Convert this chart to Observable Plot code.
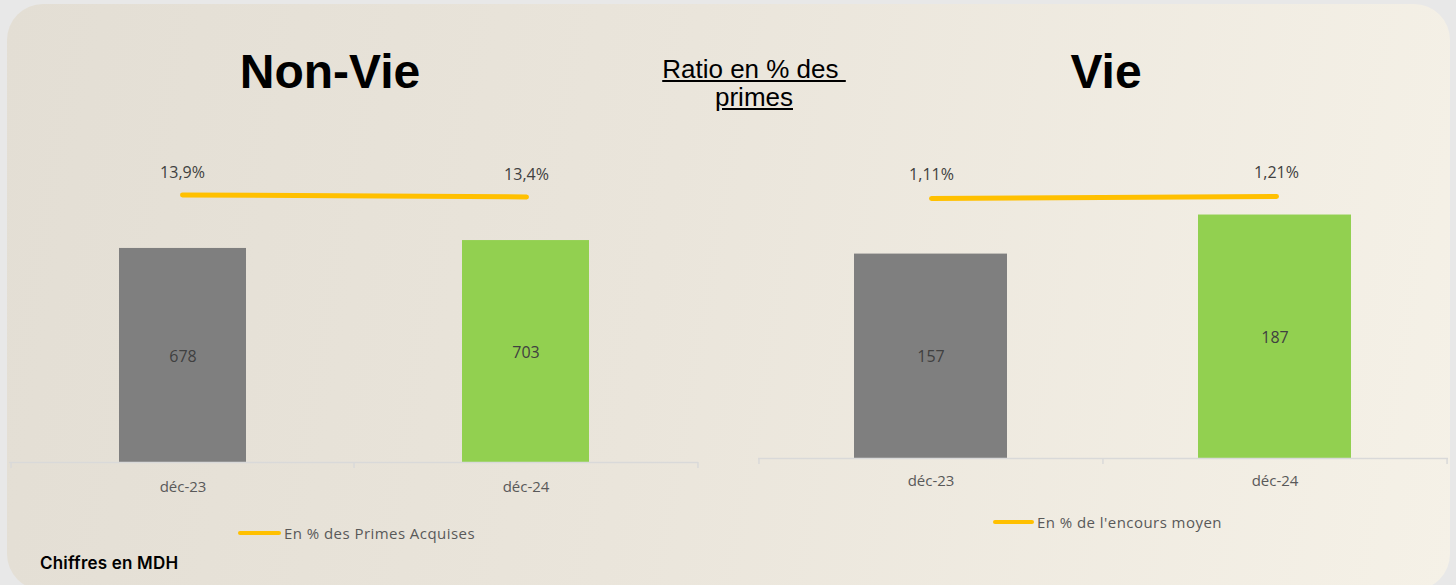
<!DOCTYPE html>
<html>
<head>
<meta charset="utf-8">
<script src="https://cdn.jsdelivr.net/npm/d3@7"></script>
<script src="https://cdn.jsdelivr.net/npm/@observablehq/plot@0.6"></script>
<style>
  html, body { margin: 0; padding: 0; background: #e8e8e8; }
  #root { position: relative; width: 1456px; height: 585px; overflow: hidden; background: #e8e8e8; font-family: "Open Sans", sans-serif; }
  #panel { position: absolute; left: 7px; top: 4px; width: 1443px; height: 586px; border-radius: 36px;
    background: linear-gradient(100deg, #e3ded4 0%, #eae5db 45%, #f5f1e7 100%); }
  .title { font-family: "Liberation Sans", Arial, sans-serif; font-weight: bold; font-size: 48px; color: #000; line-height: 1; transform: translateX(-50%); white-space: nowrap; }
  .ratio { font-family: "Liberation Sans", Arial, sans-serif; font-size: 26px; color: #000; text-decoration: underline; text-align: center; line-height: 28px; transform: translateX(-50%); white-space: nowrap; }
  .legend { display: flex; align-items: center; font-size: 15px; color: #595959; white-space: nowrap; letter-spacing: 0.45px; }
  .legend .sw { width: 43px; height: 4px; border-radius: 2px; background: #FFC000; margin-right: 3px; }
  #note { font-family: Inter, "Open Sans", sans-serif; font-weight: 600; font-size: 17px; letter-spacing: 0.2px; color: #000; }
</style>
</head>
<body>
<div id="root">
  <div id="panel"></div>
</div>
<script>
// ---- data ----
const categories = ["déc-23", "déc-24"];
const barColors = ["#7f7f7f", "#92d050"];

const nonVieValues = [678, 703];
const nonVieRatios = [13.9, 13.4];
const nonVieRatioLabels = ["13,9%", "13,4%"];
const nonVieLegend = "En % des Primes Acquises";

const vieValues = [157, 187];
const vieRatios = [1.11, 1.21];
const vieRatioLabels = ["1,11%", "1,21%"];
const vieLegend = "En % de l'encours moyen";

const titles = ["Non-Vie", "Vie"];
const centerTitle = ["Ratio en % des&nbsp;", "primes"];
const note = "Chiffres en MDH";

// ---- helpers ----
const root = document.getElementById("root");
function place(el, left, top) {
  el.style.position = "absolute";
  el.style.left = left + "px";
  el.style.top = top + "px";
  root.appendChild(el);
  return el;
}
function div(cls, html) { const d = document.createElement("div"); d.className = cls; d.innerHTML = html; return d; }

function makeChart(cfg) {
  const data = categories.map((c, i) => ({cat: c, value: cfg.values[i], ratio: cfg.ratios[i], label: cfg.ratioLabels[i]}));
  const xOpts = {domain: categories, paddingInner: cfg.pi, paddingOuter: cfg.po};
  const step = (cfg.width - cfg.ml - cfg.mr) / (categories.length - cfg.pi + 2 * cfg.po);
  const tickUnits = 6 / cfg.pxPerUnit;
  const common = {width: cfg.width, height: cfg.height, marginLeft: cfg.ml, marginRight: cfg.mr, marginTop: 0, marginBottom: cfg.height - cfg.axisY};

  const bars = Plot.plot({
    ...common,
    style: {background: "transparent", fontFamily: "'Open Sans', sans-serif", fontSize: "15px", color: "#595959"},
    x: {...xOpts, axis: "bottom", tickSize: 0, tickPadding: cfg.tickPad, label: null},
    y: {domain: [0, cfg.yMax], range: [cfg.axisY, cfg.axisY - cfg.yMax * cfg.pxPerUnit], axis: null},
    color: {domain: categories, range: barColors},
    marks: [
      Plot.barY(data, {x: "cat", y: "value", fill: "cat"}),
      Plot.ruleY([0], {stroke: "#d9d9d9", strokeWidth: 1.5}),
      Plot.ruleX(categories, {x: d => d, y1: 0, y2: -tickUnits, dx: -step / 2, stroke: "#d9d9d9", strokeWidth: 1.5}),
      Plot.ruleX(categories.slice(-1), {x: d => d, y1: 0, y2: -tickUnits, dx: step / 2, stroke: "#d9d9d9", strokeWidth: 1.5}),
      Plot.text(data, {x: "cat", y: d => d.value / 2, text: d => String(d.value), fill: "#404040", fontSize: 16, dy: 1})
    ]
  });
  const line = Plot.plot({
    ...common,
    style: {background: "transparent", fontFamily: "'Open Sans', sans-serif", fontSize: "16px"},
    x: {...xOpts, axis: null},
    y: {domain: [0, cfg.rMax], range: [cfg.rBase, cfg.rBase - cfg.rMax * cfg.rPx], axis: null},
    marks: [
      Plot.line(data, {x: "cat", y: "ratio", stroke: "#FFC000", strokeWidth: 5, strokeLinecap: "round"}),
      Plot.text(data, {x: "cat", y: "ratio", text: "label", dy: cfg.labelDy, fill: "#404040", fontSize: 16})
    ]
  });
  place(bars, cfg.left, 0);
  place(line, cfg.left, 0);
}

makeChart({
  left: 0, width: 710, height: 510, ml: 9, mr: 12, axisY: 462, pi: 0.63, po: 0.3165,
  values: nonVieValues, ratios: nonVieRatios, ratioLabels: nonVieRatioLabels,
  yMax: 900, pxPerUnit: 0.3157, tickPad: 19,
  rMax: 15, rBase: 250, rPx: 4, labelDy: -22.5
});
makeChart({
  left: 740, width: 716, height: 510, ml: 18, mr: 8, axisY: 458, pi: 0.555, po: 0.28,
  values: vieValues, ratios: vieRatios, ratioLabels: vieRatioLabels,
  yMax: 250, pxPerUnit: 1.302, tickPad: 17,
  rMax: 1.5, rBase: 220.2, rPx: 20, labelDy: -24
});

// titles
place(div("title", titles[0]), 330, 48);
place(div("title", titles[1]), 1106, 48);
place(div("ratio", centerTitle.join("<br>")), 754, 55);

// legends
place(div("legend", `<span class="sw"></span><span>${nonVieLegend}</span>`), 238, 523);
place(div("legend", `<span class="sw" style="width:41px"></span><span>${vieLegend}</span>`), 993, 512);

// note
const n = div("", note); n.id = "note";
place(n, 40, 553);
</script>
</body>
</html>
